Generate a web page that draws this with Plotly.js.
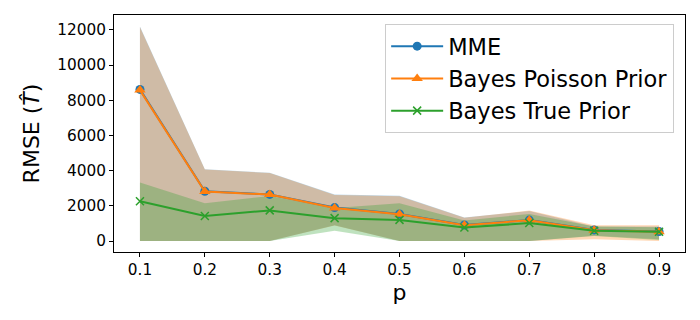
<!DOCTYPE html>
<html>
<head>
<meta charset="utf-8">
<script src="https://cdn.plot.ly/plotly-3.0.1.min.js"></script>
<style>
  html, body { margin: 0; padding: 0; background: #fff; }
  #chart { width: 700px; height: 320px; }
</style>
</head>
<body>
<div id="chart"></div>
<script>
// values
const p = [0.1, 0.2, 0.3, 0.4, 0.5, 0.6, 0.7, 0.8, 0.9];

const mme = [8620, 2830, 2650, 1900, 1540, 910, 1190, 630, 540];
const bayesPoisson = [8580, 2810, 2640, 1880, 1520, 900, 1180, 610, 520];
const bayesTrue = [2260, 1420, 1740, 1300, 1200, 770, 1020, 580, 530];

const mmeUpper = [12200, 4080, 3880, 2640, 2570, 1330, 1700, 830, 830];
const mmeLower = [0, 0, 0, 900, 0, 0, 0, 300, 100];
const poissonUpper = [12150, 4060, 3870, 2620, 2550, 1320, 1730, 900, 900];
const poissonLower = [0, 0, 0, 880, 0, 0, 0, 100, 0];
const trueUpper = [3320, 2140, 2560, 1870, 2140, 1160, 1540, 820, 780];
const trueLower = [0, 0, 0, 590, 0, 0, 0, 280, 60];

const yTicks = [0, 2000, 4000, 6000, 8000, 10000, 12000];

const blue = '#1f77b4', orange = '#ff7f0e', green = '#2ca02c';

function band(upper, lower, rgb) {
    return {
        x: p.concat(p.slice().reverse()),
        y: upper.concat(lower.slice().reverse()),
        type: 'scatter',
        mode: 'lines',
        fill: 'toself',
        fillcolor: `rgba(${rgb},0.3)`,
        line: {width: 0},
        hoverinfo: 'skip',
        showlegend: false
    };
}

const traces = [
    band(mmeUpper, mmeLower, '31,119,180'),
    band(poissonUpper, poissonLower, '255,127,14'),
    band(trueUpper, trueLower, '44,160,44'),
    {
        x: p, y: mme, type: 'scatter', mode: 'lines+markers', name: 'MME',
        line: {color: blue, width: 2},
        marker: {symbol: 'circle', size: 9, color: blue}
    },
    {
        x: p, y: bayesPoisson, type: 'scatter', mode: 'lines+markers', name: 'Bayes Poisson Prior',
        line: {color: orange, width: 2},
        marker: {symbol: 'triangle-up', size: 10, color: orange}
    },
    {
        x: p, y: bayesTrue, type: 'scatter', mode: 'lines+markers', name: 'Bayes True Prior',
        line: {color: green, width: 2},
        marker: {symbol: 'x-thin', size: 8, color: green, line: {color: green, width: 1.5}}
    }
];

const axisCommon = {
    showline: true, mirror: true, linecolor: '#000', linewidth: 1,
    ticks: 'outside', ticklen: 4, tickwidth: 1, tickcolor: '#000',
    showgrid: false, zeroline: false,
    tickfont: {size: 15.3, color: '#000'}
};

const layout = {
    width: 700, height: 320,
    margin: {l: 114, r: 15, t: 15, b: 68},
    paper_bgcolor: '#fff', plot_bgcolor: '#fff',
    font: {family: 'DejaVu Sans', color: '#000'},
    showlegend: true,
    xaxis: {
        ...axisCommon,
        range: [0.06, 0.94],
        tickvals: p,
        ticktext: p.map(v => v.toFixed(1)),
        title: {text: 'p', font: {size: 22}, standoff: 6}
    },
    yaxis: {
        ...axisCommon,
        range: [-625, 12850],
        tickvals: yTicks,
        ticktext: yTicks.map(String),
        title: {text: 'RMSE (<i>T\u0302</i>)', font: {size: 22}, standoff: 11}
    },
    legend: {
        x: 0.981, xanchor: 'right', y: 0.962, yanchor: 'top',
        bgcolor: 'rgba(255,255,255,0.8)', bordercolor: '#cccccc', borderwidth: 1,
        font: {size: 22.5}, itemwidth: 52
    }
};

Plotly.newPlot('chart', traces, layout, {displayModeBar: false, staticPlot: true});
</script>
</body>
</html>
